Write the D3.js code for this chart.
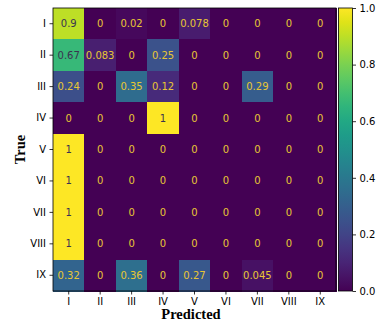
<!DOCTYPE html>
<html>
<head>
<meta charset="utf-8">
<script src="https://cdn.jsdelivr.net/npm/d3@7"></script>
<style>
  body { margin: 0; background: #fff; }
  svg { display: block; }
  text { font-family: "DejaVu Sans", sans-serif; }
</style>
</head>
<body>
<div id="chart"></div>
<script>
// class labels (true = rows, predicted = columns)
const classes = ['I', 'II', 'III', 'IV', 'V', 'VI', 'VII', 'VIII', 'IX'];

// confusion matrix rows
const rowI    = [0.9, 0, 0.02, 0, 0.078, 0, 0, 0, 0];
const rowII   = [0.67, 0.083, 0, 0.25, 0, 0, 0, 0, 0];
const rowIII  = [0.24, 0, 0.35, 0.12, 0, 0, 0.29, 0, 0];
const rowIV   = [0, 0, 0, 1, 0, 0, 0, 0, 0];
const rowV    = [1, 0, 0, 0, 0, 0, 0, 0, 0];
const rowVI   = [1, 0, 0, 0, 0, 0, 0, 0, 0];
const rowVII  = [1, 0, 0, 0, 0, 0, 0, 0, 0];
const rowVIII = [1, 0, 0, 0, 0, 0, 0, 0, 0];
const rowIX   = [0.32, 0, 0.36, 0, 0.27, 0, 0.045, 0, 0];

const rows = [rowI, rowII, rowIII, rowIV, rowV, rowVI, rowVII, rowVIII, rowIX];

const colorbarTicks = [0, 0.2, 0.4, 0.6, 0.8, 1.0];

const width = 382, height = 327;
const margin = { left: 53, top: 8, right: 46, bottom: 36 };
const plotW = 283, plotH = 283;

const svg = d3.select('#chart')
  .append('svg')
  .attr('width', width)
  .attr('height', height);

const x = d3.scaleBand().domain(classes).range([margin.left, margin.left + plotW]);
const y = d3.scaleBand().domain(classes).range([margin.top, margin.top + plotH]);
const color = d3.scaleSequential(d3.interpolateViridis).domain([0, 1]);

const cells = [];
rows.forEach((r, i) => {
  r.forEach((v, j) => {
    cells.push({ t: classes[i], p: classes[j], value: v });
  });
});

svg.append('g')
  .selectAll('rect')
  .data(cells)
  .enter()
  .append('rect')
  .attr('x', d => x(d.p))
  .attr('y', d => y(d.t))
  .attr('width', x.bandwidth() + 0.5)
  .attr('height', y.bandwidth() + 0.5)
  .attr('fill', d => color(d.value))
  .attr('shape-rendering', 'crispEdges');

svg.append('g')
  .selectAll('text')
  .data(cells)
  .enter()
  .append('text')
  .attr('x', d => x(d.p) + x.bandwidth() / 2)
  .attr('y', d => y(d.t) + y.bandwidth() / 2)
  .attr('dy', '0.35em')
  .attr('text-anchor', 'middle')
  .style('font-size', '10px')
  .attr('fill', d => d.value > 0.5 ? '#3a3350' : '#e8c634')
  .text(d => d.value);

// frame
svg.append('rect')
  .attr('x', margin.left)
  .attr('y', margin.top)
  .attr('width', plotW)
  .attr('height', plotH)
  .attr('fill', 'none')
  .attr('stroke', '#000')
  .attr('stroke-width', 0.8);

const xAxis = svg.append('g')
  .attr('transform', 'translate(0,' + (margin.top + plotH) + ')')
  .call(d3.axisBottom(x).tickSize(3.5).tickPadding(3.5));
const yAxis = svg.append('g')
  .attr('transform', 'translate(' + margin.left + ',0)')
  .call(d3.axisLeft(y).tickSize(3.5).tickPadding(3.5));

[xAxis, yAxis].forEach(a => {
  a.select('.domain').remove();
  a.selectAll('line').attr('stroke', '#000').attr('stroke-width', 0.8);
  a.selectAll('text')
    .style('font-size', '10px')
    .style('font-family', '"DejaVu Sans", sans-serif')
    .attr('fill', '#000');
});

// axis titles
svg.append('text')
  .attr('x', 191)
  .attr('y', 319)
  .attr('text-anchor', 'middle')
  .style('font-family', '"Liberation Serif", "Times New Roman", serif')
  .style('font-weight', 'bold')
  .style('font-size', '14.5px')
  .text('Predicted');

svg.append('text')
  .attr('transform', 'translate(25,' + (margin.top + plotH / 2) + ') rotate(-90)')
  .attr('text-anchor', 'middle')
  .style('font-family', '"Liberation Serif", "Times New Roman", serif')
  .style('font-weight', 'bold')
  .style('font-size', '14.5px')
  .text('True');

// colorbar
const cbX = 338.5, cbW = 14;
const cbY = d3.scaleLinear().domain([0, 1]).range([margin.top + plotH, margin.top]);

const defs = svg.append('defs');
const grad = defs.append('linearGradient')
  .attr('id', 'cbgrad')
  .attr('x1', '0%').attr('y1', '100%')
  .attr('x2', '0%').attr('y2', '0%');
d3.range(0, 1.0001, 0.05).forEach(t => {
  grad.append('stop')
    .attr('offset', (t * 100) + '%')
    .attr('stop-color', color(t));
});

svg.append('rect')
  .attr('x', cbX)
  .attr('y', margin.top)
  .attr('width', cbW)
  .attr('height', plotH)
  .attr('fill', 'url(#cbgrad)')
  .attr('stroke', '#000')
  .attr('stroke-width', 0.8);

const cbAxis = svg.append('g')
  .attr('transform', 'translate(' + (cbX + cbW) + ',0)')
  .call(d3.axisRight(cbY).tickValues(colorbarTicks).tickFormat(d3.format('.1f')).tickSize(3.5).tickPadding(3.5));
cbAxis.select('.domain').remove();
cbAxis.selectAll('line').attr('stroke', '#000').attr('stroke-width', 0.8);
cbAxis.selectAll('text')
  .style('font-size', '10px')
  .style('font-family', '"DejaVu Sans", sans-serif')
  .attr('fill', '#000');
</script>
</body>
</html>
